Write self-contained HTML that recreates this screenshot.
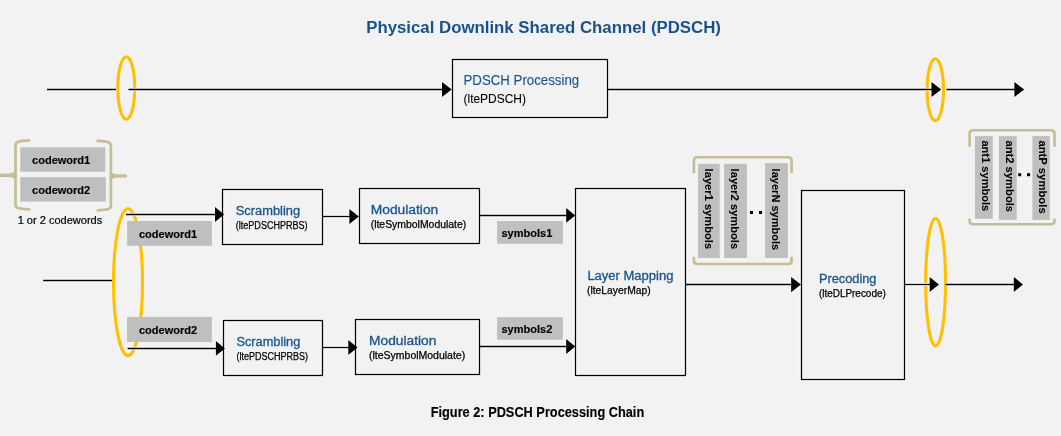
<!DOCTYPE html>
<html><head><meta charset="utf-8">
<style>
html,body{margin:0;padding:0;background:#F2F2F2;width:1061px;height:436px;overflow:hidden}
svg{display:block;will-change:transform}
text{font-family:"Liberation Sans",sans-serif}
.b{font-weight:bold}
.blue{fill:#1A558F;stroke:#1A558F;stroke-width:0.3}
.sub{fill:#000;stroke:#000;stroke-width:0.25}
.lbl{font-weight:bold;font-size:11px;fill:#000;stroke:#000;stroke-width:0.15}
.sub2{fill:#000;stroke:#000;stroke-width:0.08}
.blue2{fill:#1A558F;stroke:#1A558F;stroke-width:0.12}
.lblr{font-weight:bold;font-size:11px;fill:#000;stroke:#000;stroke-width:0.05}
.ttl{font-weight:bold;fill:#18528E}
.cap{font-weight:bold;fill:#000;stroke:#000;stroke-width:0.15}
.reg{fill:#000;stroke:#000;stroke-width:0.2}
</style></head>
<body>
<svg width="1061" height="436" viewBox="0 0 1061 436">
<rect x="0" y="0" width="1061" height="436" fill="#F2F2F2"/>

<text x="366.2" y="32.7" font-size="16" class="ttl" textLength="354.7" lengthAdjust="spacingAndGlyphs">Physical Downlink Shared Channel (PDSCH)</text>

<!-- ellipses -->
<g fill="none" stroke="#FFC000" stroke-width="3.1">
  <ellipse cx="126.3" cy="88" rx="8.45" ry="31.25"/>
  <ellipse cx="935.3" cy="89.7" rx="8.2" ry="30.95"/>
  <ellipse cx="128" cy="282.2" rx="14.5" ry="73.45"/>
  <ellipse cx="935.6" cy="282.2" rx="9.95" ry="63.75"/>
</g>

<!-- halos -->
<g fill="none" stroke="#FFFFFF" stroke-width="3.3" opacity="0.85">
  <line x1="47" y1="89.5" x2="116" y2="89.5"/>
  <line x1="128.5" y1="89.5" x2="442" y2="89.5"/>
  <line x1="607.5" y1="89.5" x2="932" y2="89.5"/>
  <line x1="946.4" y1="89.5" x2="1015" y2="89.5"/>
  <line x1="43.2" y1="280.5" x2="112" y2="280.5"/>
  <line x1="126" y1="214.5" x2="216" y2="214.5"/>
  <line x1="322.5" y1="216.5" x2="350" y2="216.5"/>
  <line x1="479.5" y1="215.5" x2="567" y2="215.5"/>
  <line x1="685.5" y1="284.5" x2="792" y2="284.5"/>
  <line x1="904.5" y1="284.5" x2="930" y2="284.5"/>
  <line x1="945.3" y1="284.5" x2="1014" y2="284.5"/>
  <line x1="127.6" y1="348.5" x2="216.5" y2="348.5"/>
  <line x1="322.5" y1="347.5" x2="349" y2="347.5"/>
  <line x1="479.5" y1="346.5" x2="567" y2="346.5"/>
  <rect x="452.5" y="59.5" width="155" height="58"/>
  <rect x="222.5" y="189.5" width="100" height="55"/>
  <rect x="359.5" y="188.5" width="120" height="55"/>
  <rect x="575.5" y="188.5" width="110" height="187"/>
  <rect x="801.5" y="190.5" width="103" height="189"/>
  <rect x="223.5" y="320.5" width="99" height="55"/>
  <rect x="355.5" y="319.5" width="124" height="55"/>
</g>
<g fill="#FFFFFF" stroke="#FFFFFF" stroke-width="2" stroke-linejoin="round" opacity="0.85">
  <polygon points="442,82 451.7,89.5 442,97"/>
  <polygon points="931.5,82 941.3,89.5 931.5,97"/>
  <polygon points="1014.4,82 1024.2,89.5 1014.4,97"/>
  <polygon points="215,207 224.1,214.5 215,222"/>
  <polygon points="349.4,209 358.8,216.5 349.4,224"/>
  <polygon points="566.2,208 575.3,215.4 566.2,222.8"/>
  <polygon points="791.1,276.9 801,284.5 791.1,292.2"/>
  <polygon points="929.7,276.9 939,284.4 929.7,292"/>
  <polygon points="1013.8,276.9 1023,284.4 1013.8,292"/>
  <polygon points="215.9,341 224.9,348.4 215.9,355.8"/>
  <polygon points="348.3,340 357.5,347.5 348.3,355"/>
  <polygon points="566.2,338.9 575.3,346.5 566.2,354.1"/>
</g>
<!-- black strokes -->
<g fill="none" stroke="#000" stroke-width="1.3">
  <line x1="47" y1="89.5" x2="116" y2="89.5"/>
  <line x1="128.5" y1="89.5" x2="442" y2="89.5"/>
  <line x1="607.5" y1="89.5" x2="932" y2="89.5"/>
  <line x1="946.4" y1="89.5" x2="1015" y2="89.5"/>
  <line x1="43.2" y1="280.5" x2="112" y2="280.5"/>
  <line x1="126" y1="214.5" x2="216" y2="214.5"/>
  <line x1="322.5" y1="216.5" x2="350" y2="216.5"/>
  <line x1="479.5" y1="215.5" x2="567" y2="215.5"/>
  <line x1="685.5" y1="284.5" x2="792" y2="284.5"/>
  <line x1="904.5" y1="284.5" x2="930" y2="284.5"/>
  <line x1="945.3" y1="284.5" x2="1014" y2="284.5"/>
  <line x1="127.6" y1="348.5" x2="216.5" y2="348.5"/>
  <line x1="322.5" y1="347.5" x2="349" y2="347.5"/>
  <line x1="479.5" y1="346.5" x2="567" y2="346.5"/>
  <rect x="452.5" y="59.5" width="155" height="58"/>
  <rect x="222.5" y="189.5" width="100" height="55"/>
  <rect x="359.5" y="188.5" width="120" height="55"/>
  <rect x="575.5" y="188.5" width="110" height="187"/>
  <rect x="801.5" y="190.5" width="103" height="189"/>
  <rect x="223.5" y="320.5" width="99" height="55"/>
  <rect x="355.5" y="319.5" width="124" height="55"/>
</g>
<g fill="#000">
  <polygon points="442,82 451.7,89.5 442,97"/>
  <polygon points="931.5,82 941.3,89.5 931.5,97"/>
  <polygon points="1014.4,82 1024.2,89.5 1014.4,97"/>
  <polygon points="215,207 224.1,214.5 215,222"/>
  <polygon points="349.4,209 358.8,216.5 349.4,224"/>
  <polygon points="566.2,208 575.3,215.4 566.2,222.8"/>
  <polygon points="791.1,276.9 801,284.5 791.1,292.2"/>
  <polygon points="929.7,276.9 939,284.4 929.7,292"/>
  <polygon points="1013.8,276.9 1023,284.4 1013.8,292"/>
  <polygon points="215.9,341 224.9,348.4 215.9,355.8"/>
  <polygon points="348.3,340 357.5,347.5 348.3,355"/>
  <polygon points="566.2,338.9 575.3,346.5 566.2,354.1"/>
</g>

<!-- box texts -->
<text x="463.5" y="85.2" font-size="14.3" class="blue2" textLength="115.7" lengthAdjust="spacingAndGlyphs">PDSCH Processing</text>
<text x="463.5" y="102.6" font-size="12" class="sub2" textLength="62.5" lengthAdjust="spacingAndGlyphs">(ltePDSCH)</text>
<text x="235.8" y="214.6" font-size="12" class="blue" textLength="64.3" lengthAdjust="spacingAndGlyphs">Scrambling</text>
<text x="235.8" y="229.1" font-size="10" class="sub" textLength="71.8" lengthAdjust="spacingAndGlyphs">(ltePDSCHPRBS)</text>
<text x="370.7" y="213.7" font-size="12" class="blue" textLength="67.6" lengthAdjust="spacingAndGlyphs">Modulation</text>
<text x="370.7" y="228.1" font-size="10" class="sub" textLength="95.6" lengthAdjust="spacingAndGlyphs">(lteSymbolModulate)</text>
<text x="236.4" y="345.6" font-size="12" class="blue" textLength="63.9" lengthAdjust="spacingAndGlyphs">Scrambling</text>
<text x="236.4" y="360.2" font-size="10" class="sub" textLength="71.6" lengthAdjust="spacingAndGlyphs">(ltePDSCHPRBS)</text>
<text x="369" y="344.7" font-size="12" class="blue" textLength="67.4" lengthAdjust="spacingAndGlyphs">Modulation</text>
<text x="369" y="359.3" font-size="10" class="sub" textLength="96.2" lengthAdjust="spacingAndGlyphs">(lteSymbolModulate)</text>
<text x="587.4" y="279.7" font-size="12" class="blue" textLength="86" lengthAdjust="spacingAndGlyphs">Layer Mapping</text>
<text x="587" y="293.7" font-size="10" class="sub" textLength="63.7" lengthAdjust="spacingAndGlyphs">(lteLayerMap)</text>
<text x="818.9" y="282.8" font-size="12" class="blue" textLength="57.6" lengthAdjust="spacingAndGlyphs">Precoding</text>
<text x="818.9" y="297.1" font-size="10" class="sub" textLength="66.9" lengthAdjust="spacingAndGlyphs">(lteDLPrecode)</text>

<!-- codeword bracket -->
<g fill="none" stroke="#C4BD97" stroke-width="2.7">
  <path d="M30.3,140.4 Q20.5,140.9 17.8,141.7 Q15.5,142.6 15.5,146 L15.5,204 Q15.5,207.2 17.8,208 Q20.5,208.8 30.3,209.5"/>
  <path d="M96.6,140.9 Q106,141.4 108.6,142.2 Q110.9,143.1 110.9,146.5 L110.9,205 Q110.9,208.2 108.6,209 Q106,209.8 96.6,210.5"/>
</g>
<g fill="#C4BD97">
  <path d="M0,173.5 L9,173.5 Q13.5,173.3 15.4,171 L15.4,179.4 Q13.5,177.1 9,176.9 L0,176.9 Z"/>
  <path d="M110.9,171.8 Q112.6,174 116.7,174.2 L125.3,174.3 Q127.2,174.4 127.2,175.9 Q127.2,177.4 125.3,177.5 L116.7,177.6 Q112.6,177.8 110.9,180 Z"/>
</g>
<g fill="#BFBFBF">
  <rect x="20.3" y="147.3" width="85" height="24.4"/>
  <rect x="20.3" y="177.1" width="85.5" height="24.5"/>
  <rect x="127.1" y="221" width="84.8" height="24.8"/>
  <rect x="127" y="317" width="84.9" height="25"/>
  <rect x="497.1" y="221.1" width="65.8" height="22.7"/>
  <rect x="497.1" y="317.2" width="65.8" height="22.5"/>
</g>
<text x="32.1" y="164.3" class="lbl">codeword1</text>
<text x="32.1" y="193.9" class="lbl">codeword2</text>
<text x="17.7" y="223.9" font-size="11" class="reg" textLength="84.5" lengthAdjust="spacingAndGlyphs">1 or 2 codewords</text>
<text x="139" y="237.9" class="lbl">codeword1</text>
<text x="139" y="333.5" class="lbl">codeword2</text>
<text x="501.5" y="236.9" class="lbl">symbols1</text>
<text x="501.5" y="332.8" class="lbl">symbols2</text>

<!-- layer symbols -->
<g fill="none" stroke="#C4BD97" stroke-width="2.6">
  <path d="M693.9,173 L693.9,160.5 Q693.9,157.3 697.3,157.3 L788.2,157.3 Q791.6,157.3 791.6,160.5 L791.6,173"/>
  <path d="M693.9,256.8 L693.9,260.8 Q693.9,264 697.3,264 L788.2,264 Q791.6,264 791.6,260.8 L791.6,256.8"/>
  <path d="M969.6,146.8 L969.6,133.5 Q969.6,130.3 973,130.3 L1051,130.3 Q1054.5,130.3 1054.5,133.5 L1054.5,146.8"/>
  <path d="M969.6,218.5 L969.6,221 Q969.6,224.3 973,224.3 L1051,224.3 Q1054.5,224.3 1054.5,221 L1054.5,218.5"/>
</g>
<g fill="#BFBFBF">
  <rect x="698.1" y="163.8" width="21.6" height="94.2"/>
  <rect x="724.1" y="163.8" width="22.8" height="94.2"/>
  <rect x="765.1" y="163.1" width="22.8" height="94.9"/>
  <rect x="974.9" y="136.1" width="17.9" height="82.7"/>
  <rect x="998.9" y="136.1" width="17.8" height="83.8"/>
  <rect x="1032.4" y="136.1" width="17.4" height="83.8"/>
</g>
<text class="lblr" transform="translate(704.8,168.6) rotate(90)" textLength="80.5" lengthAdjust="spacingAndGlyphs">layer1 symbols</text>
<text class="lblr" transform="translate(731.4,168.6) rotate(90)" textLength="80.5" lengthAdjust="spacingAndGlyphs">layer2 symbols</text>
<text class="lblr" transform="translate(772.4,168.6) rotate(90)" textLength="81.6" lengthAdjust="spacingAndGlyphs">layerN symbols</text>
<text class="lblr" transform="translate(982,140.4) rotate(90)" textLength="70.9" lengthAdjust="spacingAndGlyphs">ant1 symbols</text>
<text class="lblr" transform="translate(1005.9,140.4) rotate(90)" textLength="71.7" lengthAdjust="spacingAndGlyphs">ant2 symbols</text>
<text class="lblr" transform="translate(1039.2,140.4) rotate(90)" textLength="73.3" lengthAdjust="spacingAndGlyphs">antP symbols</text>
<g fill="#000">
  <rect x="750" y="211" width="3" height="3"/>
  <rect x="759" y="211" width="3" height="3"/>
  <rect x="1018.2" y="173.2" width="3" height="3"/>
  <rect x="1027.1" y="173.2" width="3" height="3"/>
</g>

<text x="430.7" y="417.1" font-size="14.4" class="cap" textLength="213.5" lengthAdjust="spacingAndGlyphs">Figure 2: PDSCH Processing Chain</text>

</svg>
</body></html>
